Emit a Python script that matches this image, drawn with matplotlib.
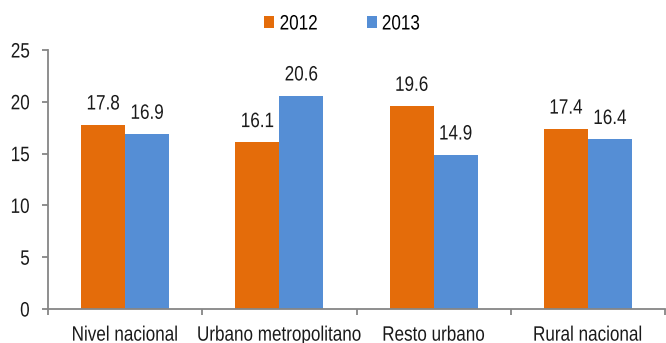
import matplotlib
matplotlib.use("Agg")
import matplotlib.pyplot as plt
from matplotlib.patheffects import AbstractPathEffect
from matplotlib.transforms import Affine2D
import numpy as np

plt.rcParams['font.family'] = ['Liberation Sans', 'DejaVu Sans']

categories = ["Nivel nacional", "Urbano metropolitano", "Resto urbano", "Rural nacional"]
series_names = ["2012", "2013"]
values_2012 = [17.8, 16.1, 19.6, 17.4]
values_2013 = [16.9, 20.6, 14.9, 16.4]
yticks = [0, 5, 10, 15, 20, 25]

colors = ["#E46C0A", "#558ED5"]
axis_color = "#868686"
text_color = "#1a1a1a"
FS = 15


class Condense(AbstractPathEffect):
    """Squeeze glyph outlines horizontally to get a narrow typeface look."""

    def __init__(self, sx=0.82, anchor="center"):
        super().__init__()
        self.sx = sx
        self.anchor = anchor

    def draw_path(self, renderer, gc, tpath, affine, rgbFace=None):
        ext = tpath.get_extents()
        if self.anchor == "left":
            cx = ext.x0
        elif self.anchor == "right":
            cx = ext.x1
        else:
            cx = 0.5 * (ext.x0 + ext.x1)
        squeeze = Affine2D().translate(-cx, 0).scale(self.sx, 1).translate(cx, 0)
        renderer.draw_path(gc, tpath, squeeze + affine, rgbFace)


fig = plt.figure(figsize=(6.66, 3.43), dpi=100)
ax = fig.add_axes([48 / 666, 1 - 309 / 343, 617 / 666, 259 / 343])

x = np.arange(len(categories))
w = 0.285
for i, (vals, name) in enumerate(zip([values_2012, values_2013], series_names)):
    pos = x + (i - 0.5) * w
    ax.bar(pos, vals, width=w, color=colors[i], label=name, zorder=2)
    for p, v in zip(pos, vals):
        t = ax.annotate(f"{v:.1f}", (p, v), xytext=(0, 8), textcoords="offset points",
                        ha="center", va="bottom", fontsize=FS, color=text_color)
        t.set_path_effects([Condense(anchor="center")])

ax.set_xlim(-0.5, len(categories) - 0.5)
ax.set_ylim(0, 25)
ax.set_yticks(yticks)
ax.set_yticklabels([str(t) for t in yticks], fontsize=FS, color=text_color)
for lab in ax.get_yticklabels():
    lab.set_path_effects([Condense(anchor="right")])

ax.set_xticks(np.arange(len(categories) + 1) - 0.5)
ax.set_xticklabels([])
ax.set_xticks(x, minor=True)
ax.set_xticklabels(categories, minor=True, fontsize=FS, color=text_color)
for lab in ax.get_xticklabels(minor=True):
    lab.set_path_effects([Condense(anchor="center")])
ax.tick_params(axis="x", which="minor", length=0, pad=12)
ax.tick_params(axis="x", which="major", length=4, color=axis_color, width=1.3)
ax.tick_params(axis="y", length=4, color=axis_color, width=1.3, pad=9)

for s in ["top", "right"]:
    ax.spines[s].set_visible(False)
for s in ["left", "bottom"]:
    ax.spines[s].set_color(axis_color)
    ax.spines[s].set_linewidth(1.3)

leg = fig.legend(loc="center", bbox_to_anchor=(0.520, 1 - 24 / 343), ncol=2, frameon=False,
                 fontsize=FS, handlelength=0.48, handleheight=0.48, handletextpad=0.24,
                 columnspacing=1.96, borderpad=0)
for t in leg.get_texts():
    t.set_path_effects([Condense(anchor="left")])

fig.savefig("out.png", dpi=100)
